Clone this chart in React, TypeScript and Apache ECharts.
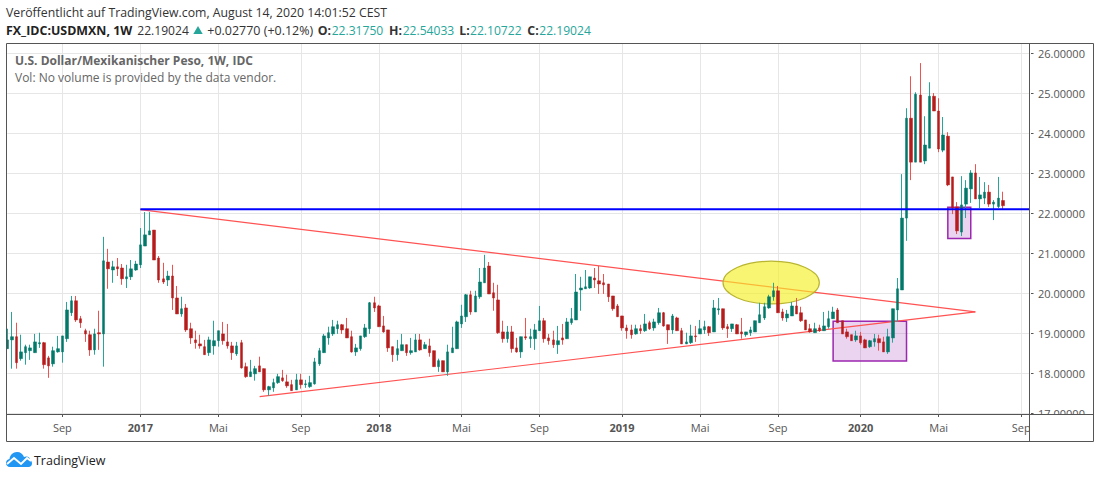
import React, { useEffect, useRef } from "react";
import * as echarts from "echarts";

const opens = [
  18.61,18.83,18.91,18.36,18.51,18.56,18.51,18.73,18.76,18.38,
  18.23,18.53,18.53,18.86,19.51,19.81,19.36,19.06,18.96,18.58,
  19.01,18.98,20.78,20.58,20.66,20.63,20.36,20.41,20.58,20.71,
  21.18,21.46,21.58,20.88,20.36,20.33,20.43,19.88,19.48,19.63,
  19.11,18.83,18.73,18.66,18.51,18.68,18.81,18.98,18.78,18.68,
  18.48,18.76,18.16,17.91,17.98,18.18,18.11,17.58,17.63,17.76,
  17.88,17.78,17.71,17.58,17.83,17.71,17.66,17.73,18.23,18.51,
  18.88,18.98,19.11,19.21,19.11,18.91,18.53,18.61,18.91,19.11,
  19.76,19.68,19.18,19.08,18.66,18.46,18.56,18.71,18.51,18.53,
  18.83,18.61,18.68,18.56,18.16,18.31,18.03,18.51,18.61,19.23,
  19.41,19.96,19.53,19.91,20.26,20.68,20.01,19.83,19.03,18.86,
  19.03,18.63,18.53,18.91,18.86,18.86,19.06,19.31,18.88,18.83,
  18.71,18.88,18.86,19.26,19.33,20.08,20.11,20.13,20.38,20.31,
  20.26,20.23,19.93,19.68,19.43,19.13,19.08,18.98,19.11,19.06,
  19.26,19.13,19.26,19.51,19.21,19.08,19.38,19.06,18.73,18.76,
  18.93,18.98,19.08,19.16,19.03,19.58,19.61,19.16,19.11,19.21,
  19.03,18.96,19.01,19.03,19.26,19.38,19.63,19.91,20.06,19.53,
  19.38,19.43,19.68,19.51,19.33,19.11,19.01,19.13,19.06,19.16,
  19.36,19.58,19.31,19.03,18.96,18.83,18.93,18.83,18.66,18.78,
  18.86,18.78,18.53,18.88,19.58,20.08,21.88,24.38,23.28,24.96,
  23.31,23.63,24.93,24.56,23.58,23.93,22.91,22.16,21.53,22.23,
  22.61,23.01,22.36,22.38,22.53,22.23,22.17,22.32,
];
const closes = [
  18.83,18.91,18.26,18.53,18.66,18.63,18.78,18.76,18.21,18.18,
  18.56,18.61,18.93,19.58,19.81,19.33,19.26,18.98,18.58,18.98,
  18.98,20.81,20.61,20.66,20.61,20.36,20.41,20.61,20.73,21.21,
  21.46,21.56,20.83,20.33,20.28,20.43,19.88,19.48,19.61,19.08,
  18.88,18.76,18.68,18.46,18.83,18.81,19.06,18.81,18.68,18.51,
  18.68,18.13,17.91,18.03,18.11,18.03,17.58,17.66,17.76,17.91,
  17.81,17.68,17.56,17.83,17.71,17.73,17.76,18.28,18.56,18.93,
  19.01,19.16,19.21,19.08,18.88,18.53,18.63,18.93,19.13,19.76,
  19.63,19.16,19.03,18.63,18.46,18.61,18.71,18.51,18.56,18.83,
  18.58,18.71,18.51,18.16,18.31,18.03,18.53,18.63,19.28,19.43,
  19.96,19.53,19.93,20.28,20.63,19.98,19.88,19.01,18.86,19.03,
  18.61,18.53,18.91,18.88,18.91,19.08,19.31,18.86,18.81,18.71,
  18.81,18.83,19.28,19.36,20.03,20.13,20.16,20.41,20.33,20.23,
  20.21,19.91,19.61,19.41,19.13,19.06,18.96,19.11,19.06,19.23,
  19.11,19.28,19.51,19.18,19.08,19.43,19.06,18.73,18.78,18.93,
  18.91,19.11,19.16,19.01,19.63,19.61,19.13,19.11,19.23,18.98,
  18.98,19.03,19.08,19.31,19.46,19.66,19.91,20.06,19.51,19.38,
  19.48,19.68,19.48,19.31,19.08,19.03,19.11,19.06,19.18,19.36,
  19.53,19.26,18.98,18.91,18.81,18.93,18.76,18.63,18.81,18.86,
  18.76,18.53,18.91,19.61,20.11,21.88,24.38,23.28,24.98,23.28,
  23.71,24.93,24.56,23.61,23.96,22.71,22.13,21.56,22.21,22.63,
  23.01,22.36,22.46,22.53,22.23,22.28,22.38,22.19,
];
const lows = [
  18.61,18.11,18.11,18.31,18.21,18.33,18.51,18.63,18.11,17.88,
  18.16,18.51,18.26,18.78,19.43,19.28,19.13,18.78,18.43,18.46,
  18.58,18.16,20.11,20.26,20.43,20.21,20.13,20.33,20.56,20.63,
  21.18,21.46,20.83,20.26,20.23,20.18,19.58,19.48,19.41,19.03,
  18.73,18.61,18.61,18.46,18.43,18.46,18.66,18.71,18.61,18.33,
  18.43,18.11,17.88,17.91,17.81,18.03,17.53,17.43,17.53,17.73,
  17.78,17.63,17.56,17.58,17.61,17.63,17.63,17.71,18.18,18.51,
  18.71,18.93,18.98,18.98,18.88,18.51,18.43,18.56,18.88,18.98,
  19.53,19.16,19.01,18.53,18.28,18.31,18.56,18.43,18.46,18.53,
  18.56,18.61,18.41,18.16,18.03,18.03,17.93,18.51,18.61,19.13,
  19.28,19.46,19.53,19.86,20.26,19.98,19.56,18.98,18.76,18.76,
  18.51,18.51,18.38,18.83,18.63,18.58,19.06,18.76,18.71,18.63,
  18.48,18.71,18.86,19.21,19.33,19.56,20.11,20.11,20.13,19.98,
  19.98,19.78,19.56,19.41,19.06,18.86,18.86,18.96,18.98,19.03,
  19.08,19.06,19.21,19.16,18.73,18.98,19.06,18.73,18.73,18.73,
  18.78,18.98,18.98,18.93,19.03,19.46,19.08,18.88,19.03,18.98,
  18.86,18.91,18.93,19.03,19.26,19.33,19.61,19.81,19.51,19.31,
  19.28,19.43,19.48,19.28,19.08,19.01,19.01,19.03,19.06,19.11,
  19.36,19.26,18.98,18.86,18.81,18.78,18.71,18.63,18.63,18.66,
  18.56,18.53,18.48,18.76,19.28,20.08,21.31,22.83,23.28,23.28,
  23.23,23.63,24.56,23.53,23.53,22.68,21.98,21.48,21.43,21.88,
  22.26,22.36,22.13,22.23,22.16,21.83,22.13,22.11,
];
const highs = [
  19.11,19.53,19.26,18.96,18.71,18.71,18.98,19.01,18.78,18.43,
  18.66,18.93,18.93,19.78,19.93,19.93,19.43,19.11,19.06,19.11,
  19.56,21.41,21.11,20.81,20.88,20.73,20.71,20.83,20.81,21.63,
  22.03,22.03,21.58,20.93,20.76,20.56,20.71,20.18,19.91,19.73,
  19.26,19.06,18.96,18.83,18.91,19.31,19.06,19.28,19.23,18.78,
  18.78,18.83,18.26,18.33,18.18,18.41,18.11,17.68,17.86,17.98,
  18.08,17.96,17.83,17.98,17.98,17.83,17.93,18.38,18.63,18.98,
  19.16,19.33,19.31,19.23,19.38,19.06,18.73,18.93,19.23,19.78,
  19.91,19.71,19.43,19.08,18.66,18.83,18.98,18.71,18.88,18.98,
  18.98,18.78,18.86,18.56,18.36,18.31,18.71,19.16,19.31,19.71,
  19.98,20.06,20.06,20.63,20.96,20.78,20.26,20.21,19.31,19.18,
  19.18,18.88,18.91,19.38,19.11,19.23,19.68,19.38,18.98,19.06,
  19.18,19.23,19.38,19.63,20.48,20.41,20.58,20.41,20.63,20.68,
  20.48,20.23,19.93,19.73,19.43,19.21,19.21,19.21,19.21,19.48,
  19.31,19.36,19.63,19.53,19.21,19.48,19.41,19.13,19.01,19.21,
  19.18,19.33,19.31,19.18,19.83,19.88,19.61,19.23,19.23,19.23,
  19.38,19.03,19.16,19.31,19.76,19.76,19.96,20.26,20.18,19.61,
  19.58,19.78,19.88,19.66,19.33,19.23,19.26,19.21,19.53,19.56,
  19.66,19.63,19.31,19.11,18.96,19.06,19.03,18.86,18.83,18.98,
  18.96,18.91,19.11,19.61,20.38,22.98,24.63,25.43,25.03,25.76,
  24.43,25.28,25.01,24.88,24.41,24.03,22.91,22.28,22.93,22.83,
  23.08,23.23,22.91,22.78,22.71,22.33,22.91,22.54,
];

const WEEK = 7 * 24 * 3600 * 1000;
const START = Date.UTC(2016, 5, 13);
const categories = Array.from({ length: 224 }, (_, i) => new Date(START + i * WEEK).toISOString().slice(0, 10));

const xTickIndexes = [12, 29, 46, 64, 81, 99, 116, 134, 151, 168, 186, 203, 221];
const xTickLabels = ["Sep", "2017", "Mai", "Sep", "2018", "Mai", "Sep", "2019", "Mai", "Sep", "2020", "Mai", "Sep"];
const yTicks = [17, 18, 19, 20, 21, 22, 23, 24, 25, 26];

const blueLine = [[29, 22.1], [223, 22.1]];
const upperTrend = [[29, 22.09], [211, 19.53]];
const lowerTrend = [[55, 17.41], [211, 19.53]];
const purpleBoxes = [[180, 19.3, 196, 18.3], [205, 22.15, 210, 21.37]];
const yellowEllipses = [[156, 20.8, 177, 19.73]];

const FONT = "'Open Sans', sans-serif";
const INK = "#555555";
const GRID = "#e6e6e6";
const UP_WICK = "#26a69a";
const UP_BODY = "#00796b";
const DOWN_WICK = "#ef5350";
const DOWN_BODY = "#b71c1c";

echarts.graphic.registerShape(
  "tvCloud",
  echarts.graphic.extendPath(
    "M4 15 C1.5 15 0 13 0 11 C0 9 1.5 7.3 3.5 7 C4 3 7 0 11 0 C14.5 0 17 2 18 5 C19 4.5 20 4.3 21 4.6 C23 5 24 6.5 24 8 C25.5 8.5 26 10 26 11.5 C26 13.5 24.5 15 22.5 15 Z",
    {}
  )
);

function label(text: string, x: number, y: number, fill: string, size: number, weight: any = "normal", scaleX = 1) {
  return {
    type: "text",
    x,
    y,
    scaleX,
    z: 120,
    silent: true,
    style: { text, fill, font: `${weight} ${size}px ${FONT}`, textVerticalAlign: "middle", textBaseline: "middle" },
  };
}

function frameLine(x1: number, y1: number, x2: number, y2: number) {
  return {
    type: "line",
    z: 110,
    silent: true,
    shape: { x1, y1, x2, y2 },
    style: { stroke: INK, lineWidth: 1 },
  };
}

export default function App() {
  const ref = useRef<HTMLDivElement>(null);

  useEffect(() => {
    const chart = echarts.init(ref.current!, undefined, { renderer: "svg" });
    const labelByCategory = new Map(xTickIndexes.map((idx, i) => [categories[idx], xTickLabels[i]]));
    const tickSet = new Set(xTickIndexes);
    const atTick = (i: number) => tickSet.has(i);

    const wickData = opens.map((o, i) => [o, closes[i], lows[i], highs[i]]);
    const bodyData = opens.map((o, i) => [o, closes[i], Math.min(o, closes[i]), Math.max(o, closes[i])]);

    const option: any = {
      animation: false,
      backgroundColor: "#ffffff",
      textStyle: { fontFamily: FONT },
      grid: { left: 7.3, top: 43, width: 1023.1, height: 371, containLabel: false },
      xAxis: {
        type: "category",
        data: categories,
        boundaryGap: false,
        axisLine: { show: false },
        axisTick: { show: true, length: 3, interval: atTick, lineStyle: { color: INK } },
        splitLine: { show: true, interval: atTick, lineStyle: { color: GRID, width: 1 } },
        axisLabel: {
          show: true,
          interval: atTick,
          margin: 8,
          color: INK,
          fontFamily: FONT,
          fontSize: 11,
          formatter: (v: string) => {
            const t = labelByCategory.get(v) ?? "";
            return /^\d/.test(t) ? `{year|${t}}` : t;
          },
          rich: { year: { fontWeight: "bold", fontFamily: FONT, fontSize: 11, color: INK } },
        },
      },
      yAxis: {
        type: "value",
        position: "right",
        offset: -0.9,
        min: 16.975,
        max: 26.263,
        axisLine: { show: false },
        axisTick: { show: true, length: 4, customValues: yTicks, lineStyle: { color: INK } },
        splitLine: { show: true, lineStyle: { color: GRID, width: 1 } },
        axisLabel: {
          show: true,
          customValues: yTicks,
          margin: 8.5,
          color: INK,
          fontFamily: FONT,
          fontSize: 11,
          formatter: (v: number) => v.toFixed(5),
        },
      },
      series: [
        {
          type: "custom",
          z: 1,
          silent: true,
          clip: true,
          data: purpleBoxes,
          encode: { x: [0, 2], y: [1, 3] },
          renderItem: (_: any, api: any) => {
            const a = api.coord([api.value(0), api.value(1)]);
            const b = api.coord([api.value(2), api.value(3)]);
            return {
              type: "rect",
              shape: { x: a[0], y: a[1], width: b[0] - a[0], height: b[1] - a[1] },
              style: { fill: "rgba(156,39,176,0.2)", stroke: "#9c27b0", lineWidth: 1.5 },
            };
          },
        },
        {
          type: "line",
          z: 2,
          silent: true,
          symbol: "none",
          data: upperTrend,
          lineStyle: { color: "#ff5252", width: 1.2 },
        },
        {
          type: "line",
          z: 2,
          silent: true,
          symbol: "none",
          data: lowerTrend,
          lineStyle: { color: "#ff5252", width: 1.2 },
        },
        {
          type: "custom",
          z: 3,
          silent: true,
          clip: true,
          data: yellowEllipses,
          encode: { x: [0, 2], y: [1, 3] },
          renderItem: (_: any, api: any) => {
            const a = api.coord([api.value(0), api.value(1)]);
            const b = api.coord([api.value(2), api.value(3)]);
            return {
              type: "ellipse",
              shape: { cx: (a[0] + b[0]) / 2, cy: (a[1] + b[1]) / 2, rx: (b[0] - a[0]) / 2, ry: (b[1] - a[1]) / 2 },
              style: { fill: "rgba(245,240,40,0.65)", stroke: "#b9b530", lineWidth: 1.2 },
            };
          },
        },
        {
          type: "candlestick",
          z: 4,
          silent: true,
          clip: false,
          barWidth: 1,
          data: wickData,
          itemStyle: { color: UP_WICK, color0: DOWN_WICK, borderColor: UP_WICK, borderColor0: DOWN_WICK, borderWidth: 1 },
        },
        {
          type: "candlestick",
          z: 5,
          silent: true,
          clip: false,
          barWidth: 3,
          data: bodyData,
          itemStyle: { color: UP_BODY, color0: DOWN_BODY, borderColor: UP_BODY, borderColor0: DOWN_BODY, borderWidth: 0.5 },
        },
        {
          type: "line",
          z: 6,
          silent: true,
          symbol: "none",
          data: blueLine,
          lineStyle: { color: "#0000ff", width: 2 },
        },
      ],
      graphic: [
        { type: "rect", z: 100, silent: true, shape: { x: 1030, y: 414.5, width: 63, height: 26 }, style: { fill: "#ffffff" } },
        { type: "rect", z: 100, silent: true, shape: { x: 1030, y: 44, width: 1, height: 371 }, style: { fill: "#ffffff" } },
        { type: "rect", z: 100, silent: true, shape: { x: 0, y: 42, width: 6.5, height: 372 }, style: { fill: "#ffffff" } },
        frameLine(6.5, 43.5, 1093.5, 43.5),
        frameLine(6.5, 43.5, 6.5, 441.5),
        frameLine(6.5, 441.5, 1093.5, 441.5),
        frameLine(1093.5, 43.5, 1093.5, 441.5),
        frameLine(1029.5, 43.5, 1029.5, 441.5),
        frameLine(6.5, 414.5, 1093.5, 414.5),

        label("Veröffentlicht auf TradingView.com, August 14, 2020 14:01:52 CEST", 6, 12, "#333333", 13, "normal", 0.945),
        label("FX_IDC:USDMXN, 1W", 6, 30, "#222222", 13, "bold", 0.955),
        label("22.19024", 137.3, 30, "#333333", 13, "normal", 0.93),
        {
          type: "polygon",
          z: 120,
          silent: true,
          shape: { points: [[193.3, 34], [202.7, 34], [198, 26]] },
          style: { fill: "#26a69a" },
        },
        label("+0.02770 (+0.12%)", 207.3, 30, "#333333", 13, "normal", 0.96),
        label("O:", 317.7, 30, "#333333", 13, "bold", 0.95),
        label("22.31750", 331.7, 30, "#26a69a", 13, "normal", 0.93),
        label("H:", 389, 30, "#333333", 13, "bold", 0.95),
        label("22.54033", 402.7, 30, "#26a69a", 13, "normal", 0.93),
        label("L:", 459.3, 30, "#333333", 13, "bold", 0.95),
        label("22.10722", 470, 30, "#26a69a", 13, "normal", 0.93),
        label("C:", 527.3, 30, "#333333", 13, "bold", 0.95),
        label("22.19024", 539.3, 30, "#26a69a", 13, "normal", 0.93),

        label("U.S. Dollar/Mexikanischer Peso, 1W, IDC", 15, 60, "#666666", 12, "bold"),
        label("Vol: No volume is provided by the data vendor.", 15, 77, "#666666", 12),

        { type: "tvCloud", x: 6, y: 452, z: 120, silent: true, style: { fill: "#2196f3" } },
        {
          type: "polyline",
          z: 121,
          silent: true,
          shape: { points: [[7, 464], [14, 458], [21, 464], [27, 458], [31, 461]] },
          style: { stroke: "#ffffff", lineWidth: 2, fill: "none" },
        },
        label("TradingView", 34, 460, "#222222", 13, "normal", 0.96),
      ],
    };

    chart.setOption(option);
    return () => chart.dispose();
  }, []);

  return <div ref={ref} style={{ position: "fixed", left: 0, top: 0, width: 1100, height: 478, background: "#fff" }} />;
}
